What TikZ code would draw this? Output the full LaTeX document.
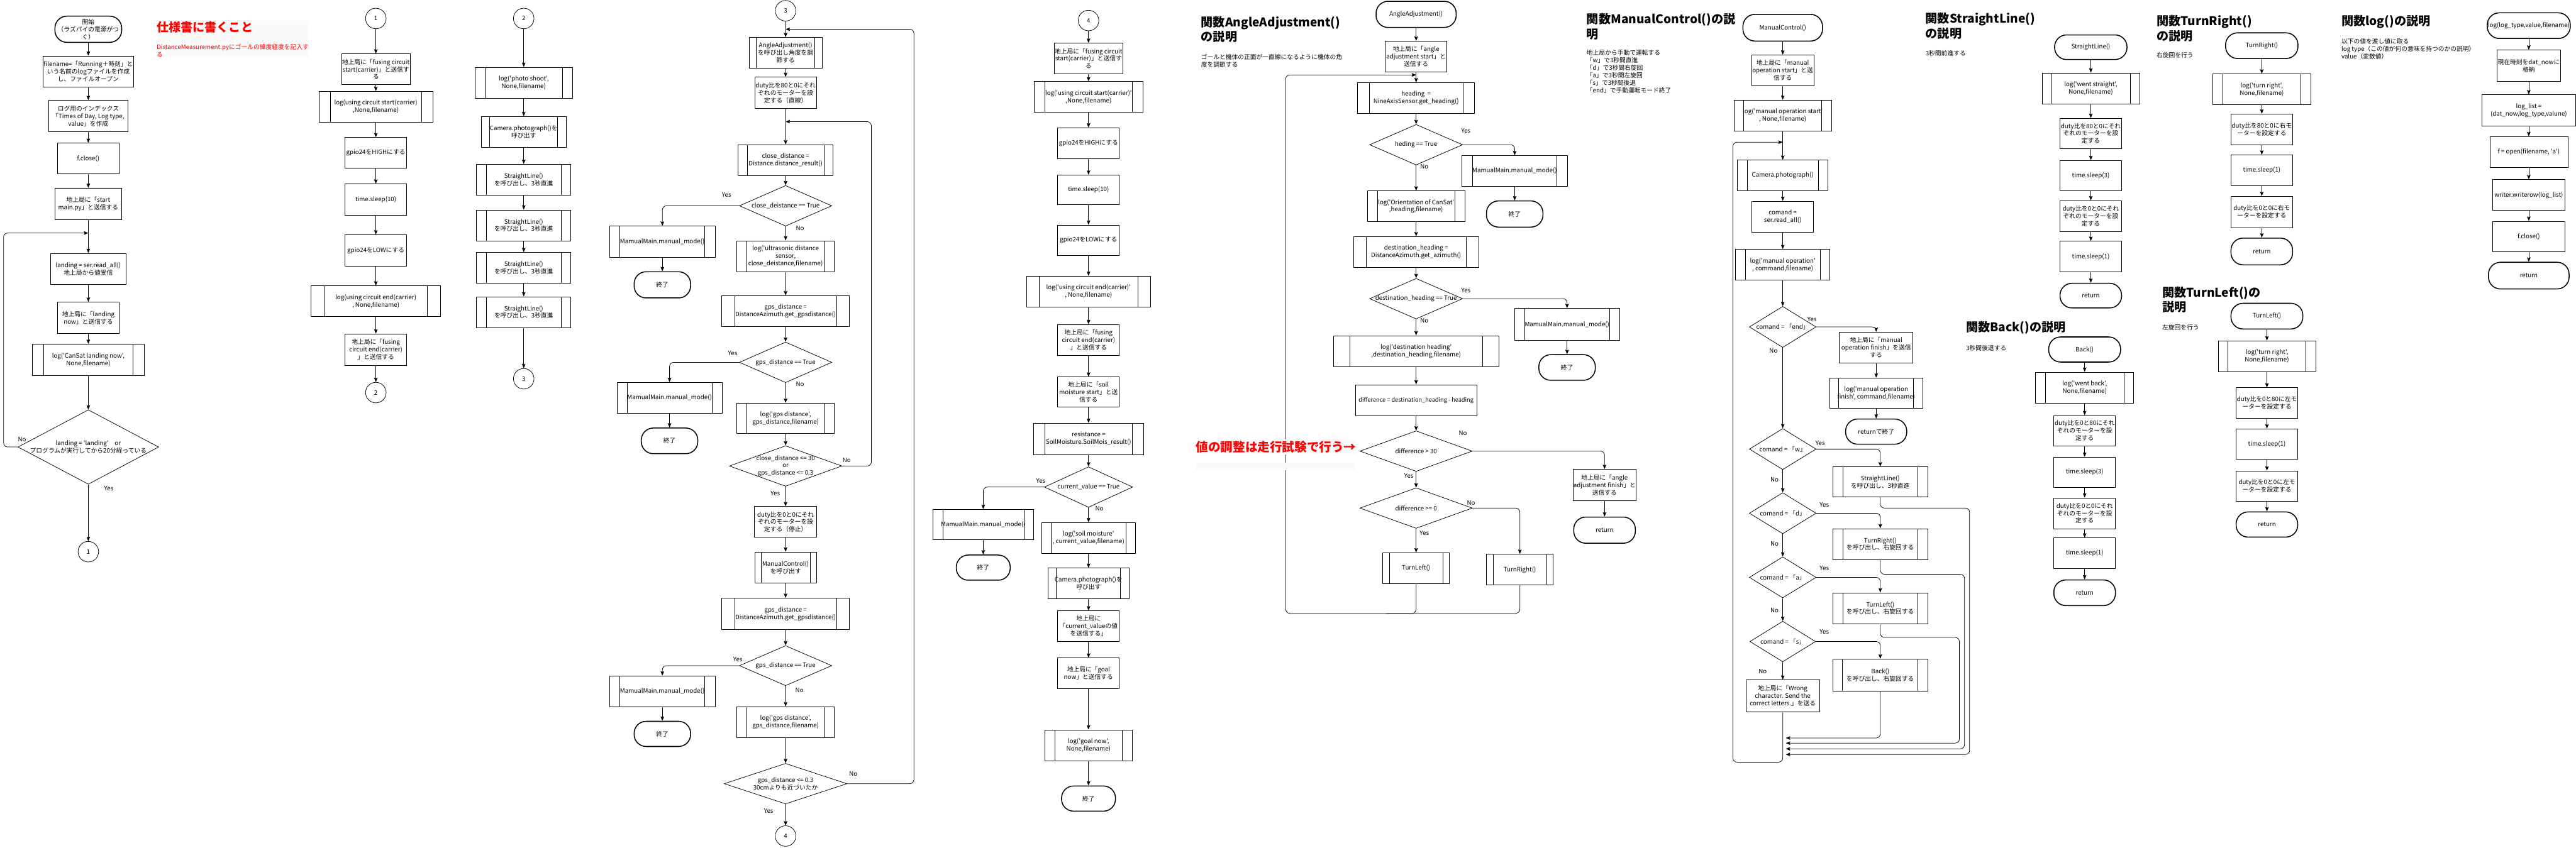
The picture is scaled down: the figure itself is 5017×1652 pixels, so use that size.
\documentclass[tikz,border=0pt]{standalone}
\usepackage{fontspec}
\setmainfont{Noto Sans CJK JP}[Ligatures=TeXOff]
\usetikzlibrary{shapes.geometric,arrows.meta}
\tikzset{
  base/.style={font=\fontsize{10.2}{12.4}\selectfont, align=center, inner sep=1pt, text=black},
  wh/.style 2 args={minimum width=#1*0.3mm, minimum height=#2*0.3mm},
  box/.style={base, draw, rectangle, line width=0.8pt},
  term/.style={base, draw, rectangle, rounded corners=7mm, line width=1.6pt},
  sub/.style={box, path picture={\draw[line width=0.8pt] ([xshift=#1*0.3mm]path picture bounding box.north west) -- ([xshift=#1*0.3mm]path picture bounding box.south west) ([xshift=-#1*0.3mm]path picture bounding box.north east) -- ([xshift=-#1*0.3mm]path picture bounding box.south east);}},
  sub/.default=20,
  dia/.style={draw, diamond, inner sep=0pt, line width=0.8pt},
  circ/.style={base, draw, circle, minimum size=40*0.3mm, line width=0.8pt},
  lbl/.style={base, inner sep=0pt},
  arr/.style={-{Stealth[length=2.6mm,width=2.1mm,inset=0.5mm]}, line width=0.8pt, rounded corners=2.4mm},
  ln/.style={line width=0.8pt, rounded corners=2.4mm},
  ttl/.style={font=\fontsize{20}{24.7}\selectfont\bfseries, align=left, anchor=west, inner sep=0pt},
  desc/.style={base, align=left, anchor=west, inner sep=0pt},
}
\begin{document}
\begin{tikzpicture}[x=0.3mm, y=-0.3mm]
\useasboundingbox (0,0) rectangle (5017,1652);
\fill[white] (0,0) rectangle (5017,1652);

% ---------------- Column A ----------------
\node[term, wh={130}{51}] (A0) at (172,57) {開始\\（ラズパイの電源がつ\\く）};
\node[box, wh={175}{60}] (A1) at (172,139) {filename=「Running＋時刻」と\\いう名前のlogファイルを作成\\し、ファイルオープン};
\node[box, wh={155}{61}] (A2) at (172,226) {ログ用のインデックス\\「Times of Day, Log type,\\value」を作成};
\node[box, wh={120}{60}] (A3) at (172,309) {f.close()};
\node[box, wh={130}{61}] (A4) at (172,397) {地上局に「start\\main.py」と送信する};
\coordinate (A45) at (172,454);
\node[box, wh={146}{61}] (A5) at (172,524) {landing = ser.read\_all()\\地上局から値受信};
\node[box, wh={120}{61}] (A6) at (172,619) {地上局に「landing\\now」と送信する};
\node[sub=22, wh={218}{61}] (A7) at (172,701) {log('CanSat landing now',\\None,filename)};
\node[dia, wh={274}{145}, label={[lbl]center:{landing = 'landing'\quad or\\プログラムが実行してから20分経っている}}] (A8) at (172,871) {};
\node[lbl] (A8n) at (43,856) {No};
\node[lbl] (A8y) at (212,952) {Yes};
\node[circ] (C1) at (172,1075) {1};
\draw[arr] (A0.south) -- (A1.north);
\draw[arr] (A1.south) -- (A2.north);
\draw[arr] (A2.south) -- (A3.north);
\draw[arr] (A3.south) -- (A4.north);
\draw[arr] (A4.south) -- (A5.north);
\draw[arr] (A5.south) -- (A6.north);
\draw[arr] (A6.south) -- (A7.north);
\draw[arr] (A7.south) -- (A8.north);
\draw[arr] (A8.west) -- (7,871) |- (A45);
\draw[arr] (A8.south) -- (C1.north);

% ---------------- Red note ----------------
\fill[gray!4] (305,40) rectangle (602,113);
\node[ttl, text=red] (R1) at (305,53) {仕様書に書くこと};
\node[desc, text=red] (R2) at (305,99) {DistanceMeasurement.pyにゴールの緯度経度を記入す\\る};

% ---------------- Flow 1 ----------------
\node[circ] (B0) at (732,36) {1};
\node[box, wh={130}{60}] (B1) at (732,135) {地上局に「fusing circuit\\start(carrier)」と送信す\\る};
\node[sub=22, wh={222}{60}] (B2) at (732,208) {log(using circuit start(carrier)\\,None,filename)};
\node[box, wh={120}{60}] (B3) at (732,298) {gpio24をHIGHにする};
\node[box, wh={120}{61}] (B4) at (732,389) {time.sleep(10)};
\node[box, wh={120}{61}] (B5) at (732,488) {gpio24をLOWにする};
\node[sub=26, wh={252}{60}] (B6) at (732,587) {log(using circuit end(carrier)\\, None,filename)};
\node[box, wh={120}{61}] (B7) at (732,681) {地上局に「fusing\\circuit end(carrier)\\」と送信する};
\node[circ] (B8) at (732,765) {2};
\draw[arr] (B0.south) -- (B1.north);
\draw[arr] (B1.south) -- (B2.north);
\draw[arr] (B2.south) -- (B3.north);
\draw[arr] (B3.south) -- (B4.north);
\draw[arr] (B4.south) -- (B5.north);
\draw[arr] (B5.south) -- (B6.north);
\draw[arr] (B6.south) -- (B7.north);
\draw[arr] (B7.south) -- (B8.north);

% ---------------- Flow 2 ----------------
\node[circ] (D0) at (1020,36) {2};
\node[sub=19, wh={189}{60}] (D1) at (1020,161) {log('photo shoot',\\None,filename)};
\node[sub=17, wh={166}{60}] (D2) at (1020,257) {Camera.photograph()を\\呼び出す};
\node[sub=19, wh={184}{60}] (D3) at (1020,350) {StraightLine()\\を呼び出し、3秒直進};
\node[sub=19, wh={184}{60}] (D4) at (1020,439) {StraightLine()\\を呼び出し、3秒直進};
\node[sub=19, wh={184}{60}] (D5) at (1020,522) {StraightLine()\\を呼び出し、3秒直進};
\node[sub=19, wh={184}{60}] (D6) at (1020,608) {StraightLine()\\を呼び出し、3秒直進};
\node[circ] (D7) at (1020,738) {3};
\draw[arr] (D0.south) -- (D1.north);
\draw[arr] (D1.south) -- (D2.north);
\draw[arr] (D2.south) -- (D3.north);
\draw[arr] (D3.south) -- (D4.north);
\draw[arr] (D4.south) -- (D5.north);
\draw[arr] (D5.south) -- (D6.north);
\draw[arr] (D6.south) -- (D7.north);

% ---------------- Flow 3 ----------------
\node[circ] (E0) at (1530,21) {3};
\coordinate (E0a) at (1530,57);
\node[sub=14, wh={142}{60}] (E1) at (1530,103) {AngleAdjustment()\\を呼び出し角度を調\\節する};
\node[box, wh={120}{61}] (E2) at (1530,181) {duty比を80と0にそれ\\ぞれのモーターを設\\定する（直線）};
\coordinate (E2a) at (1530,237);
\node[sub=18, wh={185}{60}] (E3) at (1530,312) {close\_distance =\\Distance.distance\_result()};
\node[dia, wh={180}{79}, label={[lbl]center:{close\_deistance == True}}] (E4) at (1530,401) {};
\node[lbl] (E4y) at (1415,380) {Yes};
\node[lbl] (E4n) at (1558,445) {No};
\node[sub=20, wh={205}{61}] (E5) at (1290,471) {MamualMain.manual\_mode()};
\node[term, wh={110}{51}] (E6) at (1290,555) {終了};
\node[sub=19, wh={190}{60}] (E7) at (1530,499) {log('ultrasonic distance\\sensor,\\close\_deistance,filename)};
\node[sub=25, wh={249}{60}] (E8) at (1530,606) {gps\_distance =\\DistanceAzimuth.get\_gpsdistance()};
\node[dia, wh={180}{79}, label={[lbl]center:{gps\_distance == True}}] (E9) at (1530,706) {};
\node[lbl] (E9y) at (1427,688) {Yes};
\node[lbl] (E9n) at (1558,748) {No};
\node[sub=20, wh={205}{60}] (E10) at (1304,775) {MamualMain.manual\_mode()};
\node[term, wh={110}{50}] (E11) at (1304,859) {終了};
\node[sub=19, wh={190}{59}] (E12) at (1530,815) {log('gps distance',\\gps\_distance,filename)};
\node[dia, wh={219}{79}, label={[lbl]center:{close\_distance <= 30\\or\\gps\_distance <= 0.3}}] (E13) at (1530,908) {};
\node[lbl] (E13n) at (1649,896) {No};
\node[lbl] (E13y) at (1510,962) {Yes};
\node[box, wh={121}{60}] (E14) at (1530,1017) {duty比を0と0にそれ\\ぞれのモーターを設\\定する（停止）};
\node[sub=12, wh={120}{61}] (E15) at (1530,1106) {ManualControl()\\を呼び出す};
\node[sub=25, wh={249}{61}] (E16) at (1530,1196) {gps\_distance =\\DistanceAzimuth.get\_gpsdistance()};
\node[dia, wh={180}{78}, label={[lbl]center:{gps\_distance == True}}] (E17) at (1530,1297) {};
\node[lbl] (E17y) at (1437,1285) {Yes};
\node[lbl] (E17n) at (1557,1345) {No};
\node[sub=20, wh={205}{60}] (E18) at (1290,1347) {MamualMain.manual\_mode()};
\node[term, wh={110}{49}] (E19) at (1290,1430) {終了};
\node[sub=19, wh={190}{60}] (E20) at (1530,1407) {log('gps distance',\\gps\_distance,filename)};
\node[dia, wh={239}{79}, label={[lbl]center:{gps\_distance <= 0.3\\30cmよりも近づいたか}}] (E21) at (1530,1527) {};
\node[lbl] (E21n) at (1662,1508) {No};
\node[lbl] (E21y) at (1497,1580) {Yes};
\node[circ] (E22) at (1530,1629) {4};
\draw[arr] (E0.south) -- (E1.north);
\draw[arr] (E1.south) -- (E2.north);
\draw[arr] (E2.south) -- (E3.north);
\draw[arr] (E3.south) -- (E4.north);
\draw[arr] (E4.west) -| (E5.north);
\draw[arr] (E5.south) -- (E6.north);
\draw[arr] (E4.south) -- (E7.north);
\draw[arr] (E7.south) -- (E8.north);
\draw[arr] (E8.south) -- (E9.north);
\draw[arr] (E9.west) -| (E10.north);
\draw[arr] (E10.south) -- (E11.north);
\draw[arr] (E9.south) -- (E12.north);
\draw[arr] (E12.south) -- (E13.north);
\draw[arr] (E13.east) -- (1697,908) |- (E2a);
\draw[arr] (E13.south) -- (E14.north);
\draw[arr] (E14.south) -- (E15.north);
\draw[arr] (E15.south) -- (E16.north);
\draw[arr] (E16.south) -- (E17.north);
\draw[arr] (E17.west) -| (E18.north);
\draw[arr] (E18.south) -- (E19.north);
\draw[arr] (E17.south) -- (E20.north);
\draw[arr] (E20.south) -- (E21.north);
\draw[arr] (E21.east) -- (1780,1527) |- (E0a);
\draw[arr] (E21.south) -- (E22.north);

% ---------------- Flow 4 ----------------
\node[circ] (F0) at (2120,40) {4};
\node[box, wh={124}{60}] (F1) at (2120,114) {地上局に「fusing circuit\\start(carrier)」と送信す\\る};
\node[sub=21, wh={213}{60}] (F2) at (2120,189) {log('using circuit start(carrier)'\\,None,filename)};
\node[box, wh={120}{60}] (F3) at (2120,279) {gpio24をHIGHにする};
\node[box, wh={120}{58}] (F4) at (2120,370) {time.sleep(10)};
\node[box, wh={120}{59}] (F5) at (2120,468) {gpio24をLOWにする};
\node[sub=24, wh={241}{60}] (F6) at (2120,568) {log('using circuit end(carrier)'\\, None,filename)};
\node[box, wh={120}{60}] (F7) at (2120,662) {地上局に「fusing\\circuit end(carrier)\\」と送信する};
\node[box, wh={120}{59}] (F8) at (2120,764) {地上局に「soil\\moisture start」と送\\信する};
\node[sub=22, wh={215}{61}] (F9) at (2120,855) {resistance =\\SoilMoisture.SoilMois\_result()};
\node[dia, wh={172}{79}, label={[lbl]center:{current\_value == True}}] (F10) at (2120,949) {};
\node[lbl] (F10y) at (2027,937) {Yes};
\node[lbl] (F10n) at (2141,991) {No};
\node[sub=19, wh={196}{59}] (F11) at (1915,1022) {MamualMain.manual\_mode()};
\node[term, wh={105}{49}] (F12) at (1915,1106) {終了};
\node[sub=18, wh={182}{60}] (F13) at (2120,1048) {log('soil moisture'\\, current\_value,filename)};
\node[sub=17, wh={159}{60}] (F14) at (2120,1137) {Camera.photograph()を\\呼び出す};
\node[box, wh={120}{60}] (F15) at (2120,1220) {地上局に\\「current\_valueの値\\を送信する」};
\node[box, wh={120}{60}] (F16) at (2120,1312) {地上局に「goal\\now」と送信する};
\node[sub=19, wh={170}{60}] (F17) at (2120,1452) {log('goal now',\\None,filename)};
\node[term, wh={105}{49}] (F18) at (2120,1556) {終了};
\draw[arr] (F0.south) -- (F1.north);
\draw[arr] (F1.south) -- (F2.north);
\draw[arr] (F2.south) -- (F3.north);
\draw[arr] (F3.south) -- (F4.north);
\draw[arr] (F4.south) -- (F5.north);
\draw[arr] (F5.south) -- (F6.north);
\draw[arr] (F6.south) -- (F7.north);
\draw[arr] (F7.south) -- (F8.north);
\draw[arr] (F8.south) -- (F9.north);
\draw[arr] (F9.south) -- (F10.north);
\draw[arr] (F10.west) -| (F11.north);
\draw[arr] (F11.south) -- (F12.north);
\draw[arr] (F10.south) -- (F13.north);
\draw[arr] (F13.south) -- (F14.north);
\draw[arr] (F14.south) -- (F15.north);
\draw[arr] (F15.south) -- (F16.north);
\draw[arr] (F16.south) -- (F17.north);
\draw[arr] (F17.south) -- (F18.north);

% ---------------- AngleAdjustment ----------------
\node[ttl] (GT) at (2339,57.5) {関数AngleAdjustment()\\の説明};
\node[desc] (GD) at (2339,118) {ゴールと機体の正面が一直線になるように機体の角\\度を調節する};
\node[term, wh={156}{51}] (G0) at (2758,28) {AngleAdjustment()};
\node[box, wh={120}{60}] (G1) at (2758,110) {地上局に「angle\\adjustment start」と\\送信する};
\coordinate (G1a) at (2758,146);
\node[sub=23, wh={228}{60}] (G2) at (2758,191) {heading\ \ =\\NineAxisSensor.get\_heading()};
\node[dia, wh={181}{79}, label={[lbl]center:{heding == True}}] (G3) at (2758,282) {};
\node[lbl] (G3y) at (2855,255) {Yes};
\node[lbl] (G3n) at (2774,325) {No};
\node[sub=20, wh={205}{60}] (G4) at (2950,333) {MamualMain.manual\_mode()};
\node[term, wh={110}{51}] (G5) at (2950,417) {終了};
\node[sub=20, wh={190}{60}] (G6) at (2758,402) {log('Orientation of CanSat'\\,heading,filename)};
\node[sub=25, wh={244}{60}] (G7) at (2758,491) {destination\_heading =\\DistanceAzimuth.get\_azimuth()};
\node[dia, wh={181}{79}, label={[lbl]center:{destination\_heading == True}}] (G8) at (2758,582) {};
\node[lbl] (G8y) at (2855,566) {Yes};
\node[lbl] (G8n) at (2774,625) {No};
\node[sub=20, wh={205}{62}] (G9) at (3052,632) {MamualMain.manual\_mode()};
\node[term, wh={110}{50}] (G10) at (3052,716) {終了};
\node[sub=32, wh={322}{60}] (G11) at (2758,684) {log('destination heading'\\,destination\_heading,filename)};
\node[box, wh={236}{61}, font=\fontsize{9.6}{12}\selectfont] (G12) at (2758,780) {difference = destination\_heading - heading};
\node[dia, wh={219}{79}, label={[lbl]center:{difference > 30}}] (G13) at (2758,879) {};
\node[lbl] (G13n) at (2849,844) {No};
\node[lbl] (G13y) at (2744,927) {Yes};
\node[dia, wh={219}{79}, label={[lbl]center:{difference >= 0}}] (G14) at (2758,990) {};
\node[lbl] (G14n) at (2865,980) {No};
\node[lbl] (G14y) at (2774,1039) {Yes};
\node[sub=13, wh={130}{60}] (G15) at (2758,1107) {TurnLeft()};
\node[sub=13, wh={130}{60}] (G16) at (2960,1110) {TurnRight()};
\node[box, wh={120}{61}] (G17) at (3125,945) {地上局に「angle\\adjustment finish」と\\送信する};
\node[term, wh={120}{51}] (G18) at (3125,1033) {return};
\draw[arr] (G0.south) -- (G1.north);
\draw[arr] (G1.south) -- (G2.north);
\draw[arr] (G2.south) -- (G3.north);
\draw[arr] (G3.east) -| (G4.north);
\draw[arr] (G4.south) -- (G5.north);
\draw[arr] (G3.south) -- (G6.north);
\draw[arr] (G6.south) -- (G7.north);
\draw[arr] (G7.south) -- (G8.north);
\draw[arr] (G8.east) -| (G9.north);
\draw[arr] (G9.south) -- (G10.north);
\draw[arr] (G8.south) -- (G11.north);
\draw[arr] (G11.south) -- (G12.north);
\draw[arr] (G12.south) -- (G13.north);
\draw[arr] (G13.east) -| (G17.north);
\draw[arr] (G17.south) -- (G18.north);
\draw[arr] (G13.south) -- (G14.north);
\draw[arr] (G14.east) -| (G16.north);
\draw[arr] (G14.south) -- (G15.north);
\draw[arr] (G16.south) |- (2504,1195) |- (G1a);
\draw[ln] (G15.south) |- (2700,1195);
\fill[gray!4] (2329,902) rectangle (2640,916);
\node[fill=gray!4, text=red, font=\fontsize{20.5}{24}\selectfont\bfseries, inner sep=0pt, anchor=west, minimum height=29*0.3mm] (GR) at (2329,871) {値の調整は走行試験で行う→};

% ---------------- ManualControl ----------------
\node[ttl] (HT) at (3090,51.5) {関数ManualControl()の説\\明};
\node[desc] (HD) at (3090,139.5) {地上局から手動で運転する\\「w」で3秒間直進\\「d」で3秒間右旋回\\「a」で3秒間左旋回\\「s」で3秒間後退\\「end」で手動運転モード終了};
\node[term, wh={155}{52}] (H0) at (3472,54) {ManualControl()};
\node[box, wh={120}{60}] (H1) at (3472,137) {地上局に「manual\\operation start」と送\\信する};
\node[sub=19, wh={190}{60}] (H2) at (3472,225) {log('manual operation start'\\, None,filename)};
\coordinate (H2a) at (3472,277);
\node[sub=19, wh={176}{60}] (H3) at (3472,342) {Camera.photograph()};
\node[box, wh={120}{60}] (H4) at (3472,422) {comand =\\ser.read\_all()};
\node[sub=19, wh={184}{60}] (H5) at (3472,516) {log('manual operation'\\, command,filename)};
\node[dia, wh={130}{80}, label={[lbl]center:{comand = 「end」}}] (H6) at (3472,637) {};
\node[lbl] (H6y) at (3529,622) {Yes};
\node[lbl] (H6n) at (3454,684) {No};
\node[box, wh={143}{60}] (H7) at (3654,677) {地上局に「manual\\operation finish」を送信\\する};
\node[sub=18, wh={182}{59}] (H8) at (3654,766) {log('manual operation\\finish', command,filename)};
\node[term, wh={119}{49}] (H9) at (3654,841) {returnで終了};
\node[dia, wh={130}{80}, label={[lbl]center:{comand = 「w」}}] (H10) at (3472,875) {};
\node[lbl] (H10y) at (3545,864) {Yes};
\node[lbl] (H10n) at (3456,935) {No};
\node[sub=19, wh={184}{59}] (H11) at (3662,939) {StraightLine()\\を呼び出し、3秒直進};
\node[dia, wh={130}{80}, label={[lbl]center:{comand = 「d」}}] (H12) at (3472,1000) {};
\node[lbl] (H12y) at (3553,983) {Yes};
\node[lbl] (H12n) at (3456,1059) {No};
\node[sub=19, wh={184}{60}] (H13) at (3662,1060) {TurnRight()\\を呼び出し、右旋回する};
\node[dia, wh={130}{80}, label={[lbl]center:{comand = 「a」}}] (H14) at (3472,1125) {};
\node[lbl] (H14y) at (3553,1107) {Yes};
\node[lbl] (H14n) at (3456,1189) {No};
\node[sub=19, wh={184}{60}] (H15) at (3662,1185) {TurnLeft()\\を呼び出し、右旋回する};
\node[dia, wh={128}{79}, label={[lbl]center:{comand = 「s」}}] (H16) at (3472,1250) {};
\node[lbl] (H16y) at (3553,1231) {Yes};
\node[lbl] (H16n) at (3433,1308) {No};
\node[sub=19, wh={185}{62}] (H17) at (3662,1315) {Back()\\を呼び出し、右旋回する};
\node[box, wh={143}{62}] (H18) at (3472,1356) {地上局に「Wrong\\character. Send the\\correct letters.」を送る};
\coordinate (Hm1) at (3478,1470);
\coordinate (Hm2) at (3478,1459);
\coordinate (Hm3) at (3478,1448);
\coordinate (Hm4) at (3478,1438);
\draw[arr] (H0.south) -- (H1.north);
\draw[arr] (H1.south) -- (H2.north);
\draw[arr] (H2.south) -- (H3.north);
\draw[arr] (H3.south) -- (H4.north);
\draw[arr] (H4.south) -- (H5.north);
\draw[arr] (H5.south) -- (H6.north);
\draw[arr] (H6.east) -| (H7.north);
\draw[arr] (H7.south) -- (H8.north);
\draw[arr] (H8.south) -- (H9.north);
\draw[arr] (H6.south) -- (H10.north);
\draw[arr] (H10.east) -| (H11.north);
\draw[arr] (H10.south) -- (H12.north);
\draw[arr] (H12.east) -| (H13.north);
\draw[arr] (H12.south) -- (H14.north);
\draw[arr] (H14.east) -| (H15.north);
\draw[arr] (H14.south) -- (H16.north);
\draw[arr] (H16.east) -| (H17.north);
\draw[arr] (H16.south) -- (H18.north);
\draw[arr] (H11.south) |- (3836,990) |- (Hm1);
\draw[arr] (H13.south) |- (3826,1119) |- (Hm2);
\draw[arr] (H15.south) |- (3816,1242) |- (Hm3);
\draw[arr] (H17.south) |- (Hm4);
\draw[arr] (H18.south) |- (3375,1485) |- (H2a);

% ---------------- StraightLine ----------------
\node[ttl] (IT) at (3750,50.5) {関数StraightLine()\\の説明};
\node[desc] (ID) at (3750,104) {3秒間前進する};
\node[term, wh={141}{48}] (I0) at (4072,92) {StraightLine()};
\node[sub=18, wh={190}{60}] (I1) at (4072,172) {log('went straight',\\None,filename)};
\node[box, wh={120}{59}] (I2) at (4072,260) {duty比を80と0にそれ\\ぞれのモーターを設\\定する};
\node[box, wh={120}{59}] (I3) at (4072,342) {time.sleep(3)};
\node[box, wh={120}{60}] (I4) at (4072,421) {duty比を0と0にそれ\\ぞれのモーターを設\\定する};
\node[box, wh={120}{60}] (I5) at (4072,500) {time.sleep(1)};
\node[term, wh={120}{48}] (I6) at (4072,576) {return};
\draw[arr] (I0.south) -- (I1.north);
\draw[arr] (I1.south) -- (I2.north);
\draw[arr] (I2.south) -- (I3.north);
\draw[arr] (I3.south) -- (I4.north);
\draw[arr] (I4.south) -- (I5.north);
\draw[arr] (I5.south) -- (I6.north);

% ---------------- Back ----------------
\node[ttl] (JT) at (3829,639) {関数Back()の説明};
\node[desc] (JD) at (3829,678) {3秒間後退する};
\node[term, wh={140}{49}] (J0) at (4060,681) {Back()};
\node[sub=19, wh={191}{60}] (J1) at (4060,755) {log('went back',\\None,filename)};
\node[box, wh={120}{59}] (J2) at (4060,839) {duty比を0と80にそれ\\ぞれのモーターを設\\定する};
\node[box, wh={120}{59}] (J3) at (4060,920) {time.sleep(3)};
\node[box, wh={120}{60}] (J4) at (4060,1000) {duty比を0と0にそれ\\ぞれのモーターを設\\定する};
\node[box, wh={120}{60}] (J5) at (4060,1078) {time.sleep(1)};
\node[term, wh={120}{50}] (J6) at (4060,1155) {return};
\draw[arr] (J0.south) -- (J1.north);
\draw[arr] (J1.south) -- (J2.north);
\draw[arr] (J2.south) -- (J3.north);
\draw[arr] (J3.south) -- (J4.north);
\draw[arr] (J4.south) -- (J5.north);
\draw[arr] (J5.south) -- (J6.north);

% ---------------- TurnRight ----------------
\node[ttl] (KT) at (4200,55.5) {関数TurnRight()\\の説明};
\node[desc] (KD) at (4200,108) {右旋回を行う};
\node[term, wh={141}{50}] (K0) at (4405,89) {TurnRight()};
\node[sub=20, wh={191}{60}] (K1) at (4405,174) {log('turn right',\\None,filename)};
\node[box, wh={120}{60}] (K2) at (4405,252) {duty比を80と0に右モ\\ーターを設定する};
\node[box, wh={120}{60}] (K3) at (4405,332) {time.sleep(1)};
\node[box, wh={120}{61}] (K4) at (4405,413) {duty比を0と0に右モ\\ーターを設定する};
\node[term, wh={120}{52}] (K5) at (4405,490) {return};
\draw[arr] (K0.south) -- (K1.north);
\draw[arr] (K1.south) -- (K2.north);
\draw[arr] (K2.south) -- (K3.north);
\draw[arr] (K3.south) -- (K4.north);
\draw[arr] (K4.south) -- (K5.north);

% ---------------- TurnLeft ----------------
\node[ttl] (LT) at (4211,584) {関数TurnLeft()の\\説明};
\node[desc] (LD) at (4211,638) {左旋回を行う};
\node[term, wh={140}{50}] (L0) at (4415,616) {TurnLeft()};
\node[sub=19, wh={190}{60}] (L1) at (4415,694) {log('turn right',\\None,filename)};
\node[box, wh={120}{59}] (L2) at (4415,785) {duty比を0と80に左モ\\ーターを設定する};
\node[box, wh={120}{59}] (L3) at (4415,865) {time.sleep(1)};
\node[box, wh={120}{59}] (L4) at (4415,947) {duty比を0と0に左モ\\ーターを設定する};
\node[term, wh={120}{49}] (L5) at (4415,1022) {return};
\draw[arr] (L0.south) -- (L1.north);
\draw[arr] (L1.south) -- (L2.north);
\draw[arr] (L2.south) -- (L3.north);
\draw[arr] (L3.south) -- (L4.north);
\draw[arr] (L4.south) -- (L5.north);

% ---------------- log ----------------
\node[ttl] (MT) at (4560,42) {関数log()の説明};
\node[desc] (MD) at (4560,95) {以下の値を渡し値に取る\\log type（この値が何の意味を持つのかの説明）\\value（変数値）};
\node[term, wh={156}{50}] (M0) at (4925,50) {log(log\_type,value,filename)};
\node[box, wh={120}{61}] (M1) at (4925,128) {現在時刻をdat\_nowに\\格納};
\node[box, wh={182}{61}] (M2) at (4925,215) {log\_list =\\(dat\_now,log\_type,valune)};
\node[box, wh={152}{60}] (M3) at (4925,296) {f = open(filename, 'a')};
\node[box, wh={141}{60}] (M4) at (4925,380) {writer.writerow(log\_list)};
\node[box, wh={141}{60}] (M5) at (4925,461) {f.close()};
\node[term, wh={157}{52}] (M6) at (4925,537) {return};
\draw[arr] (M0.south) -- (M1.north);
\draw[arr] (M1.south) -- (M2.north);
\draw[arr] (M2.south) -- (M3.north);
\draw[arr] (M3.south) -- (M4.north);
\draw[arr] (M4.south) -- (M5.north);
\draw[arr] (M5.south) -- (M6.north);
\end{tikzpicture}
\end{document}
